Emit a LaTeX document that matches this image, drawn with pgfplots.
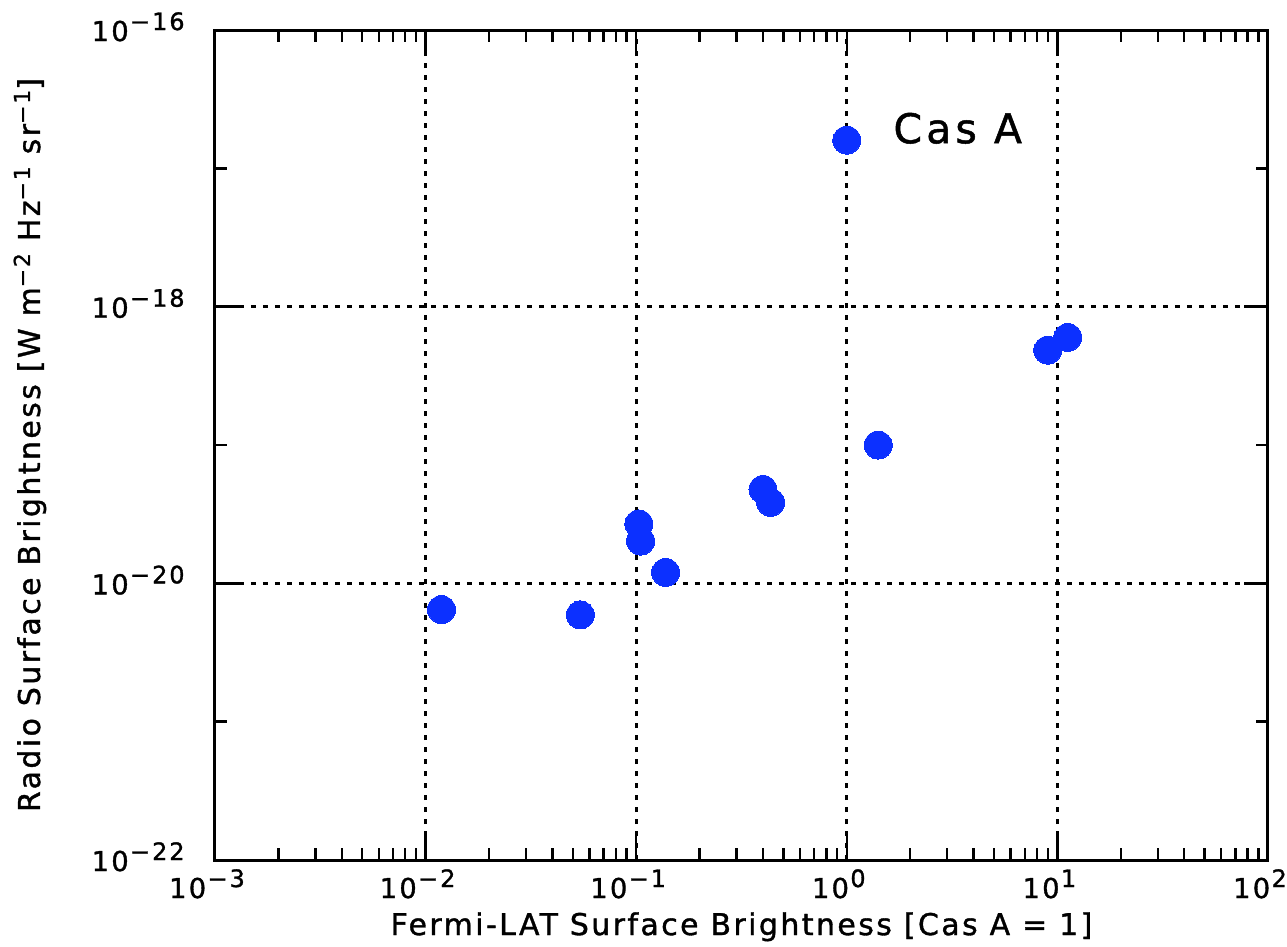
\documentclass[border=0pt]{standalone}
\usepackage{fontspec}
\setmainfont{DejaVu Sans}[LetterSpace=8, FakeBold=1.2]
\usepackage{pgfplots}
\pgfplotsset{compat=1.18}
\definecolor{ptblue}{RGB}{12,48,255}
% power-of-ten tick label set in the text font
\newcommand\pw[1]{\fontsize{13.7}{16}\selectfont 10\kern0.05em\raisebox{5.5pt}{\fontsize{12}{14}\selectfont #1}}

\begin{document}
\begin{tikzpicture}
\begin{axis}[
  at={(0,0)}, anchor=south west,
  xmode=log, ymode=log,
  scale only axis, width=526.5pt, height=415pt,
  xmin=1e-3, xmax=1e2, ymin=1e-22, ymax=1e-16,
  xtick={1e-3,1e-2,1e-1,1,1e1,1e2},
  xticklabels={\pw{−3},\pw{−2},\pw{−1},\pw{0},\pw{1},\pw{2}},
  ytick={1e-22,1e-20,1e-18,1e-16},
  minor ytick={1e-21,1e-19,1e-17},
  yticklabels={\pw{−22},\pw{−20},\pw{−18},\pw{−16}},
  axis on top,
  xmajorgrids, ymajorgrids,
  major grid style={black, line width=1.4pt, dash pattern=on 2.5pt off 3.5pt},
  axis line style={line width=1.5pt},
  every tick/.style={black, line width=1.2pt},
  major tick length=12pt, minor tick length=6pt,
  xticklabel style={anchor=base, inner sep=0pt, yshift=-19pt, xshift=-4pt},
  yticklabel style={anchor=base east, inner sep=0pt, xshift=-15pt, yshift=-5.5pt},
  xlabel={Fermi-LAT Surface Brightness [Cas A = 1]},
  ylabel={Radio Surface Brightness [W m\raisebox{5pt}{\fontsize{11}{13}\selectfont −2} Hz\raisebox{5pt}{\fontsize{11}{13}\selectfont −1} sr\raisebox{5pt}{\fontsize{11}{13}\selectfont −1}]},
  xlabel style={at={(axis description cs:0.5,-0.0904)}, anchor=base, inner sep=0pt, font=\fontsize{15}{18}\selectfont},
  ylabel style={at={(axis description cs:-0.1662,0.5)}, rotate=0, anchor=base, inner sep=0pt, font=\fontsize{15}{18}\selectfont},
]
\addplot[only marks, color=ptblue, mark=*, mark size=7pt, mark options={draw=ptblue, fill=ptblue, line width=0pt}] table {
x y
1.0 1.6e-17
9.0 4.85e-19
11.2 6.0e-19
1.41 1.0e-19
0.40 4.78e-20
0.435 3.85e-20
0.103 2.69e-20
0.105 2.02e-20
0.138 1.2e-20
0.0119 6.47e-21
0.0543 5.92e-21
};
\node[anchor=base west, inner sep=0pt, font=\fontsize{20.5}{24}\selectfont\addfontfeature{LetterSpace=10}] at (axis cs:1.66,1.52e-17) {Cas A};
\end{axis}
\pgfresetboundingbox
\path[use as bounding box] (-107.5pt,-43.5pt) rectangle (536pt,430pt);
\end{tikzpicture}
\end{document}
